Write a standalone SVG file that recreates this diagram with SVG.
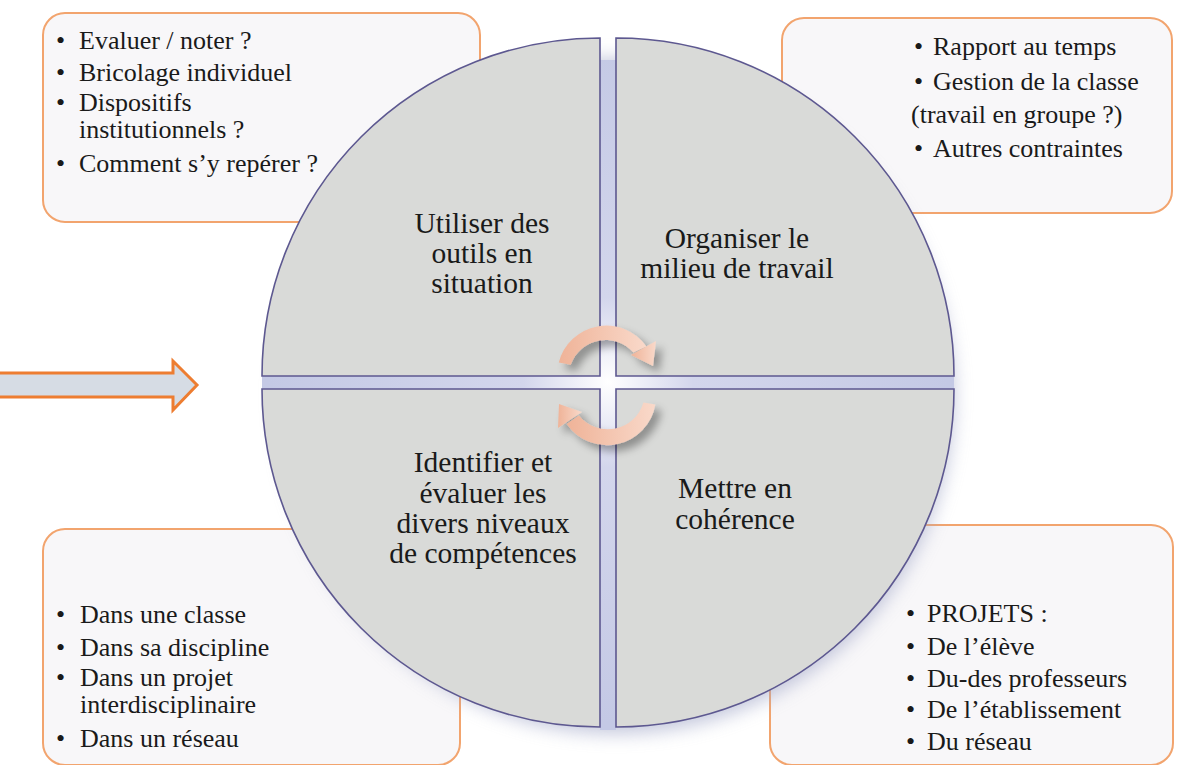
<svg xmlns="http://www.w3.org/2000/svg" width="1179" height="765" viewBox="0 0 1179 765">
<defs>
<style>
.box{fill:#f8f7f9;stroke:#f2a46e;stroke-width:2}
.quad{fill:#d9dad8;stroke:#5d5890;stroke-width:1.6}
.lst{font-family:'Liberation Serif','Tinos','DejaVu Serif',serif;font-size:26px;fill:#1a1a1a}
.lbl{font-family:'Liberation Serif','Tinos','DejaVu Serif',serif;font-size:29.5px;fill:#1a1a1a;text-anchor:middle}
.cyc{fill:url(#cycGrad)}
</style>
<filter id="blur" x="-20%" y="-20%" width="140%" height="140%"><feGaussianBlur stdDeviation="9"/></filter>
<filter id="ash" x="-30%" y="-30%" width="160%" height="160%">
<feGaussianBlur in="SourceAlpha" stdDeviation="4"/><feOffset dx="6" dy="6" result="o"/>
<feComponentTransfer><feFuncA type="linear" slope="0.35"/></feComponentTransfer>
<feMerge><feMergeNode/><feMergeNode in="SourceGraphic"/></feMerge>
</filter>
<linearGradient id="cycGrad" x1="0" y1="0" x2="1" y2="0">
<stop offset="0" stop-color="#efb398"/><stop offset="1" stop-color="#f9d9ca"/>
</linearGradient>
<radialGradient id="gapGrad" cx="608" cy="382" r="340" gradientUnits="userSpaceOnUse">
<stop offset="0" stop-color="#ffffff"/><stop offset="0.25" stop-color="#d3d6ec"/><stop offset="1" stop-color="#c4c9e5"/>
</radialGradient>
</defs>
<rect width="1179" height="765" fill="#ffffff"/>

<g id="box-tl"><rect class="box" x="43" y="13" width="437" height="209" rx="22"/>
<text class="lst"><tspan x="56" y="49">•</tspan><tspan x="79" y="49">Evaluer / noter ?</tspan></text>
<text class="lst"><tspan x="56" y="81">•</tspan><tspan x="79" y="81">Bricolage individuel</tspan></text>
<text class="lst"><tspan x="56" y="111">•</tspan><tspan x="79" y="111">Dispositifs</tspan><tspan x="79" y="138">institutionnels ?</tspan></text>
<text class="lst"><tspan x="56" y="172">•</tspan><tspan x="79" y="172">Comment s’y repérer ?</tspan></text>
</g>
<g id="box-tr"><rect class="box" x="782" y="18" width="390" height="195" rx="22"/>
<text class="lst"><tspan x="914" y="55">•</tspan><tspan x="933" y="55">Rapport au temps</tspan></text>
<text class="lst"><tspan x="914" y="90">•</tspan><tspan x="933" y="90">Gestion de la classe</tspan><tspan x="911" y="123">(travail en groupe ?)</tspan></text>
<text class="lst"><tspan x="914" y="157">•</tspan><tspan x="933" y="157">Autres contraintes</tspan></text>
</g>
<g id="box-bl"><rect class="box" x="43" y="529" width="417" height="236" rx="22"/>
<text class="lst"><tspan x="56" y="623">•</tspan><tspan x="80" y="623">Dans une classe</tspan></text>
<text class="lst"><tspan x="56" y="656">•</tspan><tspan x="80" y="656">Dans sa discipline</tspan></text>
<text class="lst"><tspan x="56" y="686">•</tspan><tspan x="80" y="686">Dans un projet</tspan><tspan x="80" y="713">interdisciplinaire</tspan></text>
<text class="lst"><tspan x="56" y="747">•</tspan><tspan x="80" y="747">Dans un réseau</tspan></text>
</g>
<g id="box-br"><rect class="box" x="770" y="525" width="403" height="240" rx="22"/>
<text class="lst"><tspan x="906" y="622">•</tspan><tspan x="927" y="622">PROJETS :</tspan></text>
<text class="lst"><tspan x="906" y="655">•</tspan><tspan x="927" y="655">De l’élève</tspan></text>
<text class="lst"><tspan x="906" y="687">•</tspan><tspan x="927" y="687">Du-des professeurs</tspan></text>
<text class="lst"><tspan x="906" y="718">•</tspan><tspan x="927" y="718">De l’établissement</tspan></text>
<text class="lst"><tspan x="906" y="750">•</tspan><tspan x="927" y="750">Du réseau</tspan></text>
</g>

<g id="circle-back">
<circle cx="616" cy="396" r="338" fill="#9ea4c6" opacity="0.6" filter="url(#blur)"/>
<rect x="600" y="60" width="16" height="670" fill="url(#gapGrad)"/>
<rect x="262" y="376" width="692" height="13" fill="url(#gapGrad)"/>
</g>

<g id="quad-tl"><path class="quad" d="M600,376 H262 A338,338 0 0 1 600,38 Z"/>
<text class="lbl" x="482" y="233">Utiliser des</text>
<text class="lbl" x="482" y="263">outils en</text>
<text class="lbl" x="482" y="293">situation</text>
</g>
<g id="quad-tr"><path class="quad" d="M616,376 V38 A338,338 0 0 1 954,376 Z"/>
<text class="lbl" x="737" y="248">Organiser le</text>
<text class="lbl" x="737" y="278">milieu de travail</text>
</g>
<g id="quad-bl"><path class="quad" d="M600,389 V727 A338,338 0 0 1 262,389 Z"/>
<text class="lbl" x="483" y="472">Identifier et</text>
<text class="lbl" x="483" y="503">évaluer les</text>
<text class="lbl" x="483" y="533">divers niveaux</text>
<text class="lbl" x="483" y="563">de compétences</text>
</g>
<g id="quad-br"><path class="quad" d="M616,389 H954 A338,338 0 0 1 616,727 Z"/>
<text class="lbl" x="735" y="498">Mettre en</text>
<text class="lbl" x="735" y="529">cohérence</text>
</g>

<g id="connectors">
<polygon points="-4,373 173,373 173,361 197,385 173,410 173,397 -4,397" fill="#d6dce4" stroke="#ed7d31" stroke-width="3" stroke-linejoin="miter"/>
<g filter="url(#ash)">
<path class="cyc" d="M558.8,362.6 A49,49 0 0 1 646.4,346.5 L633.4,352.6 A37,37 0 0 0 570.7,364.8 Z"/>
<polygon class="cyc" points="656,341 631,355 653,366"/>
<path class="cyc" d="M655.3,404.5 A49,49 0 0 1 566.7,424.1 L578.9,415.4 A37,37 0 0 0 643.4,402.4 Z"/>
<polygon class="cyc" points="558,428 582,412 559,404"/>
</g>
</g>
</svg>
